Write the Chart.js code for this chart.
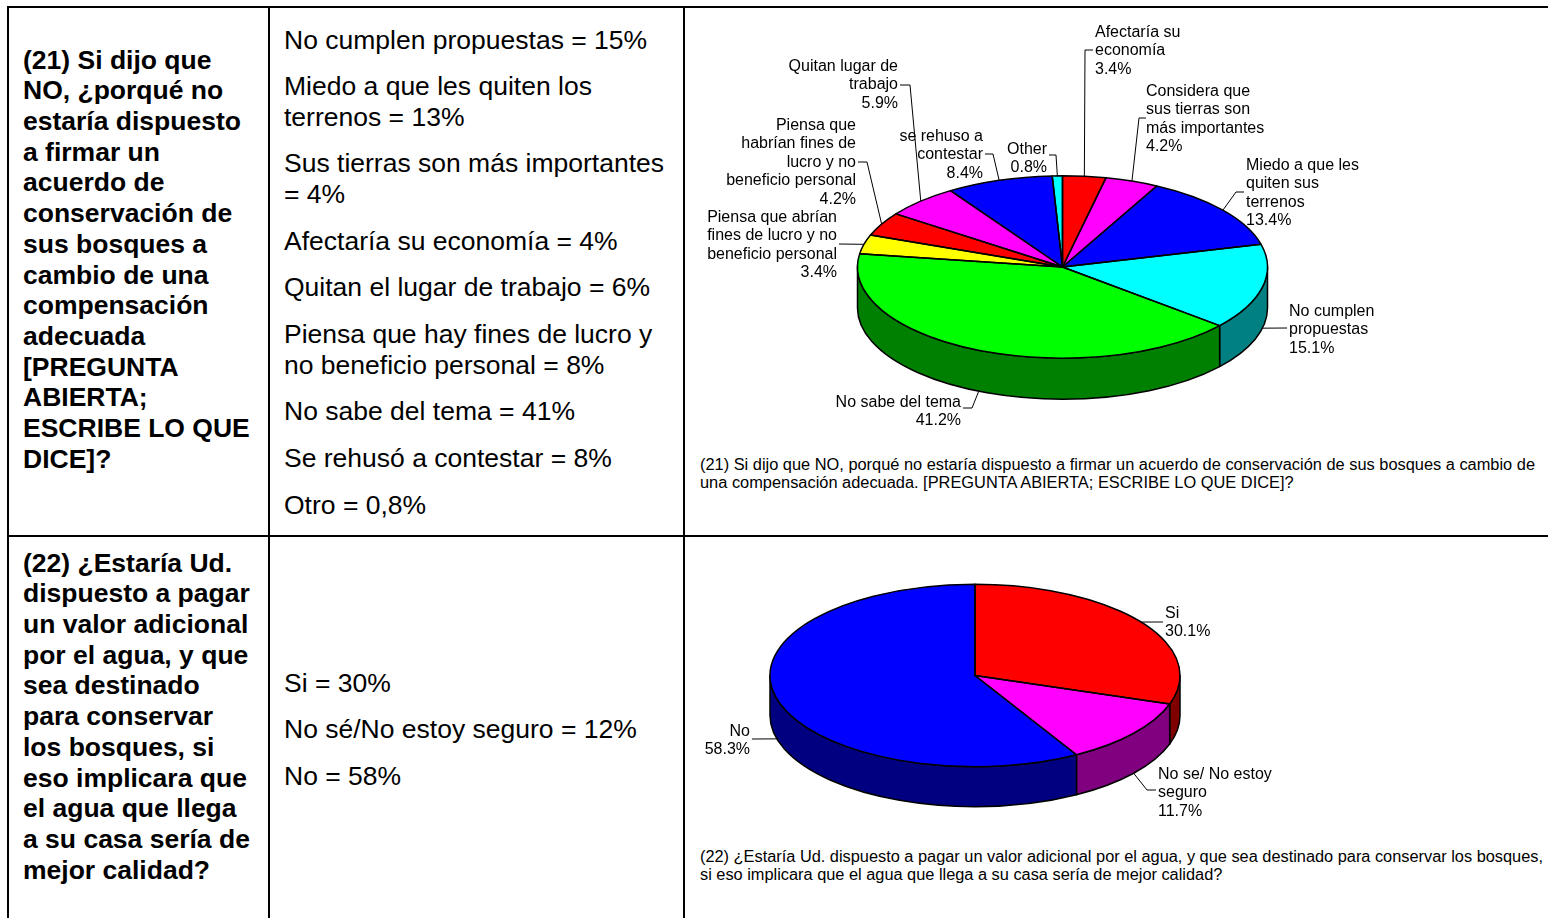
<!DOCTYPE html>
<html lang="es">
<head>
<meta charset="utf-8">
<title>Preguntas 21 y 22</title>
<script src="https://cdn.jsdelivr.net/npm/chart.js@4/dist/chart.umd.min.js"></script>
<style>
  body { margin: 0; width: 1548px; height: 918px; overflow: hidden; background: #fff;
         font-family: "Liberation Sans", Arial, sans-serif; color: #000; position: relative; }
  .rule { position: absolute; background: #000; }
  .q { position: absolute; left: 23px; font-weight: bold; font-size: 26.5px; line-height: 30.7px; }
  .ans { position: absolute; left: 284px; font-size: 26.5px; line-height: 30.8px; }
  .ans p { margin: 0 0 15.8px 0; }
  .cap { position: absolute; left: 700px; font-size: 16px; line-height: 18px; white-space: nowrap; transform-origin: 0 0; }
  canvas { position: absolute; left: 0; top: 0; pointer-events: none; }
</style>
</head>
<body>

<!-- table rules -->
<div class="rule" style="left:7px;top:5.7px;width:1541px;height:2.6px"></div>
<div class="rule" style="left:6.7px;top:5.7px;width:2.6px;height:913px"></div>
<div class="rule" style="left:267.7px;top:5.7px;width:2.6px;height:913px"></div>
<div class="rule" style="left:682.9px;top:5.7px;width:2.6px;height:913px"></div>
<div class="rule" style="left:7px;top:534.7px;width:1541px;height:2.6px"></div>

<div class="q" style="top:44.6px">(21) Si dijo que<br>NO, ¿porqué no<br>estaría dispuesto<br>a firmar un<br>acuerdo de<br>conservación de<br>sus bosques a<br>cambio de una<br>compensación<br>adecuada<br>[PREGUNTA<br>ABIERTA;<br>ESCRIBE LO QUE<br>DICE]?</div>

<div class="ans" style="top:24.5px">
  <p>No cumplen propuestas = 15%</p>
  <p>Miedo a que les quiten los<br>terrenos = 13%</p>
  <p>Sus tierras son más importantes<br>= 4%</p>
  <p>Afectaría su economía = 4%</p>
  <p>Quitan el lugar de trabajo = 6%</p>
  <p>Piensa que hay fines de lucro y<br>no beneficio personal = 8%</p>
  <p>No sabe del tema = 41%</p>
  <p>Se rehusó a contestar = 8%</p>
  <p>Otro = 0,8%</p>
</div>

<div class="q" style="top:547.6px">(22) ¿Estaría Ud.<br>dispuesto a pagar<br>un valor adicional<br>por el agua, y que<br>sea destinado<br>para conservar<br>los bosques, si<br>eso implicara que<br>el agua que llega<br>a su casa sería de<br>mejor calidad?</div>

<div class="ans" style="top:667.5px">
  <p>Si = 30%</p>
  <p>No sé/No estoy seguro = 12%</p>
  <p>No = 58%</p>
</div>

<div class="cap" data-w="835" style="top:455.5px"><span>(21) Si dijo que NO, porqué no estaría dispuesto a firmar un acuerdo de conservación de sus bosques a cambio de</span><br>una compensación adecuada. [PREGUNTA ABIERTA; ESCRIBE LO QUE DICE]?</div>
<div class="cap" data-w="843" style="top:847.5px"><span>(22) ¿Estaría Ud. dispuesto a pagar un valor adicional por el agua, y que sea destinado para conservar los bosques,</span><br>si eso implicara que el agua que llega a su casa sería de mejor calidad?</div>

<canvas id="motivos" width="1548" height="918"></canvas>
<canvas id="pago" width="1548" height="918"></canvas>

<script>
// --- pregunta 21: motivos para no firmar ---
const motivosLabels = [
  ['Afectaría su', 'economía'],
  ['Considera que', 'sus tierras son', 'más importantes'],
  ['Miedo a que les', 'quiten sus', 'terrenos'],
  ['No cumplen', 'propuestas'],
  ['No sabe del tema'],
  ['Piensa que abrían', 'fines de lucro y no', 'beneficio personal'],
  ['Piensa que', 'habrían fines de', 'lucro y no', 'beneficio personal'],
  ['Quitan lugar de', 'trabajo'],
  ['se rehuso a', 'contestar'],
  ['Other']
];
const motivosValues = [3.4, 4.2, 13.4, 15.1, 41.2, 3.4, 4.2, 5.9, 8.4, 0.8];
const motivosColors = ['#ff0000', '#ff00ff', '#0000ff', '#00ffff', '#00ff00',
                       '#ffff00', '#ff0000', '#ff00ff', '#0000ff', '#00ffff'];
const motivosSides  = ['#800000', '#800080', '#000080', '#008080', '#008000',
                       '#808000', '#800000', '#800080', '#000080', '#008080'];

// --- pregunta 22: pagar un valor adicional por el agua ---
const pagoLabels = [['Si'], ['No se/ No estoy', 'seguro'], ['No']];
const pagoValues = [30.1, 11.7, 58.3];
const pagoColors = ['#ff0000', '#ff00ff', '#0000ff'];
const pagoSides  = ['#800000', '#800080', '#000080'];

// where each label text sits and the elbows of its leader line
const motivosLayout = [
  { x: 1095, y: 31,  align: 'left',  path: [[1085, 50], [1093, 50]] },
  { x: 1146, y: 90,  align: 'left',  path: [[1139, 118], [1146, 118]] },
  { x: 1246, y: 164, align: 'left',  path: [[1236, 192], [1244, 192]] },
  { x: 1289, y: 310, align: 'left',  path: [[1287, 328]] },
  { x: 961,  y: 401, align: 'right', path: [[972, 408], [963, 408]] },
  { x: 837,  y: 216, align: 'right', path: [[839, 244]] },
  { x: 856,  y: 124, align: 'right', path: [[867, 162], [858, 162]] },
  { x: 898,  y: 65,  align: 'right', path: [[910, 85], [900, 85]] },
  { x: 983,  y: 135, align: 'right', path: [[993, 154], [985, 154]] },
  { x: 1047, y: 148, align: 'right', path: [[1056, 155], [1049, 155]] }
];
const pagoLayout = [
  { x: 1165, y: 612, align: 'left',  path: [[1163, 622]] },
  { x: 1158, y: 773, align: 'left',  path: [[1147, 790], [1156, 790]] },
  { x: 750,  y: 730, align: 'right', path: [[752, 739]] }
];

// tilted pie: side walls first, then the squashed disc, then outlines + labels
const pie3d = {
  id: 'pie3d',
  beforeDatasetsDraw(chart, args, o) {
    const ctx = chart.ctx;
    const arcs = chart.getDatasetMeta(0).data;
    const { x, y, outerRadius: r } = arcs[0];
    const ry = r * o.tilt;

    ctx.save();
    ctx.lineWidth = o.edge;
    ctx.strokeStyle = '#000';
    ctx.lineJoin = 'round';
    arcs.forEach((arc, i) => {
      // only the front half (0..PI) of the rim is visible
      const a = Math.max(arc.startAngle, 0);
      const b = Math.min(arc.endAngle, Math.PI);
      if (b <= a) return;
      ctx.beginPath();
      ctx.ellipse(x, y, r, ry, 0, a, b);
      ctx.ellipse(x, y + o.depth, r, ry, 0, b, a, true);
      ctx.closePath();
      ctx.fillStyle = o.sides[i];
      ctx.fill();
      ctx.stroke();
    });
    ctx.restore();

    ctx.save();
    ctx.translate(x, y);
    ctx.scale(1, o.tilt);
    ctx.translate(-x, -y);
  },
  afterDatasetsDraw(chart, args, o) {
    const ctx = chart.ctx;
    ctx.restore();
    const arcs = chart.getDatasetMeta(0).data;
    const { x, y, outerRadius: r } = arcs[0];
    const ry = r * o.tilt;

    ctx.save();
    ctx.lineWidth = o.edge;
    ctx.strokeStyle = '#000';
    ctx.lineJoin = 'round';
    arcs.forEach(arc => {
      ctx.beginPath();
      ctx.moveTo(x, y);
      ctx.ellipse(x, y, r, ry, 0, arc.startAngle, arc.endAngle);
      ctx.closePath();
      ctx.stroke();
    });

    // leader lines start at the middle of each slice (bottom of the rim in front)
    const labels = chart.data.labels;
    const values = chart.data.datasets[0].data;
    ctx.lineWidth = 1;
    ctx.font = '16px "Liberation Sans", Arial, sans-serif';
    ctx.textBaseline = 'middle';
    ctx.fillStyle = '#000';
    arcs.forEach((arc, i) => {
      const lay = o.layout[i];
      const mid = (arc.startAngle + arc.endAngle) / 2;
      const sx = x + r * Math.cos(mid);
      let sy = y + ry * Math.sin(mid);
      if (Math.sin(mid) > 0) sy += o.depth;

      ctx.beginPath();
      ctx.moveTo(sx, sy);
      lay.path.forEach(p => ctx.lineTo(p[0], p[1]));
      ctx.stroke();

      const lines = [...labels[i], values[i].toFixed(1) + '%'];
      ctx.textAlign = lay.align;
      lines.forEach((t, k) => ctx.fillText(t, lay.x, lay.y + 1.5 + k * 18.5));
    });
    ctx.restore();
  }
};

function pieChart(id, labels, values, colors, sides, layout, padding, depth) {
  return new Chart(document.getElementById(id), {
    type: 'pie',
    data: {
      labels: labels,
      datasets: [{
        data: values,
        backgroundColor: colors,
        borderWidth: 0,
        clip: false
      }]
    },
    options: {
      responsive: false,
      animation: false,
      events: [],
      layout: { padding: padding },
      plugins: {
        legend: { display: false },
        tooltip: { enabled: false },
        pie3d: { tilt: 0.445, depth: depth, edge: 1.5, sides: sides, layout: layout }
      }
    },
    plugins: [pie3d]
  });
}

pieChart('motivos', motivosLabels, motivosValues, motivosColors, motivosSides, motivosLayout,
         { left: 857.5, right: 280.5, top: 62, bottom: 446 }, 41);
pieChart('pago', pagoLabels, pagoValues, pagoColors, pagoSides, pagoLayout,
         { left: 770, right: 368, top: 470.5, bottom: 37.5 }, 40);

// captions are set in a narrow face: squeeze each one to its width
document.querySelectorAll('.cap').forEach(el => {
  const w = el.querySelector('span').getBoundingClientRect().width;
  el.style.transform = 'scaleX(' + (Number(el.dataset.w) / w) + ')';
});
</script>
</body>
</html>
